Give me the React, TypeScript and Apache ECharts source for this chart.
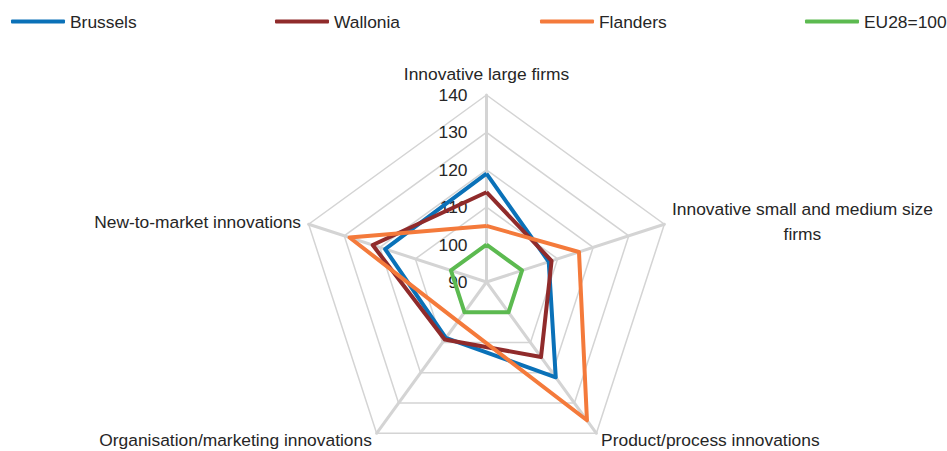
import React, { useEffect, useRef } from "react";
import * as echarts from "echarts";

const indicatorNames = [
  "Innovative large firms",
  "New-to-market innovations",
  "Organisation/marketing innovations",
  "Product/process innovations",
  "Innovative small and medium size firms",
];
const axisMin = 90;
const axisMax = 140;

const seriesNames = ["Brussels", "Wallonia", "Flanders", "EU28=100"];
const brussels = [119, 118.5, 108.5, 121.5, 107.5];
const wallonia = [114, 122, 109, 114.8, 108.3];
const flanders = [105, 128.5, 103, 135.7, 116];
const eu28 = [100, 100, 100, 100, 100];
const colors = ["#0a71b8", "#902b2b", "#f47a3b", "#5cba50"];

const FONT = "'Liberation Sans', Arial, Helvetica, sans-serif";
const FS = 17.4;
const TEXT_COLOR = "#262626";

export default function App() {
  const ref = useRef<HTMLDivElement>(null);
  useEffect(() => {
    if (!ref.current) return;
    const chart = echarts.init(ref.current, undefined, { renderer: "svg" });
    const values = [brussels, wallonia, flanders, eu28];
    const legendLefts = [6, 270, 535, 800];
    const indicator = indicatorNames.map((name, i) => {
      const ind: any = { name, min: axisMin, max: axisMax };
      if (i === 0) {
        ind.axisLabel = { show: true };
        ind.nameGap = 13;
      }
      if (i === 2 || i === 3) ind.nameTextStyle = { verticalAlign: "middle" };
      return ind;
    });
    chart.setOption({
      animation: false,
      textStyle: { fontFamily: FONT, color: TEXT_COLOR },
      legend: seriesNames.map((n, i) => ({
        data: [n],
        left: legendLefts[i],
        top: 8,
        icon: "roundRect",
        itemWidth: 54,
        itemHeight: 4,
        textStyle: { fontFamily: FONT, fontSize: FS, color: TEXT_COLOR },
        selectedMode: false,
      })),
      radar: {
        center: [486.5, 282],
        radius: 187,
        startAngle: 90,
        splitNumber: 5,
        shape: "polygon",
        nameGap: 8,
        axisName: {
          fontFamily: FONT,
          fontSize: FS,
          color: TEXT_COLOR,
          formatter: (name: string) =>
            name === "Innovative small and medium size firms"
              ? "{a|Innovative small and medium size}\n{b|firms}"
              : name,
          rich: {
            a: { fontFamily: FONT, fontSize: FS, color: TEXT_COLOR, lineHeight: 25 },
            b: { fontFamily: FONT, fontSize: FS, color: TEXT_COLOR, align: "center", lineHeight: 25 },
          },
        },
        axisLine: { lineStyle: { color: "#d4d4d4", width: 3 } },
        splitLine: { lineStyle: { color: "#d4d4d4", width: 1.5 } },
        splitArea: { show: false },
        axisTick: { show: false },
        axisLabel: {
          show: false,
          fontFamily: FONT,
          fontSize: FS,
          color: TEXT_COLOR,
          margin: 19,
        },
        indicator,
      },
      series: [
        {
          type: "radar",
          symbol: "none",
          data: seriesNames.map((n, i) => ({
            name: n,
            value: values[i],
            lineStyle: { color: colors[i], width: 4 },
            itemStyle: { color: colors[i] },
          })),
        },
      ],
    });
    return () => chart.dispose();
  }, []);
  return (
    <div
      ref={ref}
      style={{ position: "absolute", left: 0, top: 0, width: 947, height: 451 }}
    />
  );
}
